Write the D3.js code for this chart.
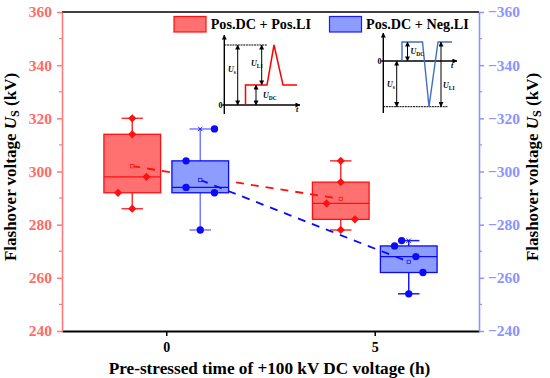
<!DOCTYPE html>
<html><head><meta charset="utf-8">
<script src="https://cdnjs.cloudflare.com/ajax/libs/d3/7.8.5/d3.min.js"></script>
<style>html,body{margin:0;padding:0;background:#fff}svg{display:block}text{font-family:"Liberation Serif",serif;font-weight:bold}</style>
</head><body><svg id="c" width="550" height="378"></svg>
<script>
const hours=[0,5];
const seriesNames=["Pos.DC + Pos.LI","Pos.DC + Neg.LI"];
const leftTicks=[240,260,280,300,320,340,360];
const rightTicks=[-240,-260,-280,-300,-320,-340,-360];
// box stats: [whisker low, q1, median, q3, whisker high, mean]
const redStats=[[286,292,298,314,320,302],[278,282,288,296,304,289.7]];
const blueStats=[[-278,-292,-294,-304,-316,-296.8],[-254,-262,-268,-272,-274,-266]];
// raw points per box and the side of the box they are jittered to
const redPoints=[[320,314,298,292,286],[304,296,288,282,278]];
const redSides=[[0,0,1,-1,0],[0,0,-1,1,0]];
const bluePoints=[[-316,-304,-294,-292,-278],[-274,-272,-268,-262,-254]];
const blueSides=[[1,-1,-1,1,0],[-.5,-1,.5,1,0]];
// schematic waveforms (time, voltage) in schematic units
const posWaveT=[0,0,21.5,28.5,37.5,51.5], posWaveV=[0,20,20,60,20,20];
const negWaveT=[0,0,20.5,27,36,50], negWaveV=[0,19,19,-45.7,19,19];

const RED="#ff0000",BLUE="#0000ff",REDAX="#ff7a7a",BLUEAX="#8a94ff";
const svg=d3.select("#c");
const L=62,R=479,T=12,B=331;
const x=d3.scaleLinear().domain([-2.5,7.5]).range([L,R]);
const yL=d3.scaleLinear().domain([240,360]).range([B,T]);
const yR=d3.scaleLinear().domain([-240,-360]).range([B,T]);
const off=34/41.7, boxW=56.7/41.7, jit=14.2/41.7;

// frame
svg.append("line").attr("x1",L).attr("x2",R).attr("y1",T).attr("y2",T).attr("stroke","#000").attr("stroke-width",1.6);

function colorAxis(g,color,size){
  g.select(".domain").attr("stroke",color).attr("stroke-width",1.6);
  g.selectAll(".tick line").attr("stroke",color).attr("stroke-width",1.5);
  g.selectAll(".tick text").attr("fill",color).attr("font-size",size);
}
const gx=svg.append("g").attr("transform",`translate(0,${B})`)
 .call(d3.axisBottom(x).tickValues(hours).tickSize(5).tickSizeOuter(0).tickPadding(6.5));
gx.select(".domain").attr("stroke","#000").attr("stroke-width",1.8);
gx.selectAll(".tick line").attr("stroke","#000").attr("stroke-width",1.5);
gx.selectAll(".tick text").attr("fill","#000").attr("font-size",14).attr("font-family","Liberation Serif");

const minorL=d3.range(250,360,20), minorR=d3.range(-250,-360,-20);
const gl=svg.append("g").attr("transform",`translate(${L},0)`)
 .call(d3.axisLeft(yL).tickValues(leftTicks).tickSize(5).tickSizeOuter(0).tickPadding(5));
colorAxis(gl,REDAX,15.5); gl.selectAll(".tick text").attr("fill","#ff6a6a").attr("font-family","Liberation Serif");
gl.append("g").selectAll("line").data(minorL).join("line").attr("x2",-3).attr("y1",yL).attr("y2",yL).attr("stroke",REDAX).attr("stroke-width",1.2);
const gr=svg.append("g").attr("transform",`translate(${R},0)`)
 .call(d3.axisRight(yR).tickValues(rightTicks).tickSize(5).tickSizeOuter(0).tickPadding(4));
colorAxis(gr,BLUEAX,15.5); gr.selectAll(".tick text").attr("font-family","Liberation Serif");
gr.append("g").selectAll("line").data(minorR).join("line").attr("x2",3).attr("y1",yR).attr("y2",yR).attr("stroke",BLUEAX).attr("stroke-width",1.2);

function title(x0,y0,rot,color){
  const t=svg.append("text").attr("transform",`translate(${x0},${y0}) rotate(${rot})`).attr("text-anchor","middle").attr("font-size",17).attr("fill",color);
  t.append("tspan").text("Flashover voltage ");
  t.append("tspan").attr("font-style","italic").text("U");
  t.append("tspan").attr("font-size",12).attr("dy",3).text("S");
  t.append("tspan").attr("dy",-3).text(" (kV)");
}
title(16,167,-90,"#000");
title(538,167,-90,"#000");
svg.append("text").attr("x",269.5).attr("y",374).attr("text-anchor","middle").attr("font-size",17.2).text("Pre-stressed time of +100 kV DC voltage (h)");

function drawBoxes(stats,points,sides,y,shift,color,fill,whisk,shape){
  const g=svg.append("g");
  // mean trend line
  const line=d3.line().x((d,i)=>x(hours[i]+shift)).y(d=>y(d[5]));
  stats.forEach((s,i)=>{
    const c=x(hours[i]+shift),w=x(boxW)-x(0),capW=10.7;
    const wc=whisk[i];
    g.append("line").attr("x1",c).attr("x2",c).attr("y1",y(s[0])).attr("y2",y(s[4])).attr("stroke",wc).attr("stroke-width",1.5);
    [s[0],s[4]].forEach(v=>g.append("line").attr("x1",c-capW).attr("x2",c+capW).attr("y1",y(v)).attr("y2",y(v)).attr("stroke",wc).attr("stroke-width",1.5));
    g.append("rect").attr("x",c-w/2).attr("width",w).attr("y",y(s[3])).attr("height",y(s[1])-y(s[3])).attr("fill",fill).attr("stroke",color).attr("stroke-width",1.3);
    g.append("line").attr("x1",c-w/2).attr("x2",c+w/2).attr("y1",y(s[2])).attr("y2",y(s[2])).attr("stroke",color).attr("stroke-width",1.3);
  });
  g.append("path").datum(stats).attr("d",line).attr("fill","none").attr("stroke",color).attr("stroke-width",1.8).attr("stroke-dasharray","8 7");
  stats.forEach((s,i)=>{
    const c=x(hours[i]+shift);
    g.append("rect").attr("x",c-1.7).attr("y",y(s[5])-1.7).attr("width",3.4).attr("height",3.4).attr("fill",fill).attr("stroke",color).attr("stroke-width",.7);
    g.selectAll(null).data(points[i]).join("path")
     .attr("d",d3.symbol().type(shape.type).size(shape.size))
     .attr("transform",(d,k)=>`translate(${x(hours[i]+shift+sides[i][k]*jit)},${y(d)})${shape.rot?" rotate(45)":""}`)
     .attr("fill",color);
    if(shape.mark) g.append("path").attr("d",d3.symbol().type(d3.symbolX).size(14)).attr("transform",`translate(${c},${y(s[4])})`).attr("fill","none").attr("stroke",color).attr("stroke-width",.9);
  });
}
drawBoxes(redStats,redPoints,redSides,yL,-off,"#ff1010","#ff7070",["#ff3030","#ff3030"],{type:d3.symbolSquare,size:34,rot:true});
drawBoxes(blueStats,bluePoints,blueSides,yR,off,"#0a0aff","#8c9cff",["#7a7aff","#1a1aff"],{type:d3.symbolCircle,size:42,mark:true});

// legend
[[174,RED,"#ff7070",0,210.7],[329.5,BLUE,"#8c9cff",1,366]].forEach(([lx,s,f,i,tx])=>{
  svg.append("rect").attr("x",lx).attr("y",16.5).attr("width",32).attr("height",15.5).attr("fill",f).attr("stroke",i?"#1a1aff":"#ff1010").attr("stroke-width",1.2);
  svg.append("text").attr("x",tx).attr("y",29).attr("font-size",14.2).attr("fill","#000").text(seriesNames[i]);
});

// schematics
const defs=svg.append("defs");
defs.append("marker").attr("id","ah").attr("viewBox","0 0 6 6").attr("refX",5.5).attr("refY",3).attr("markerWidth",5).attr("markerHeight",5).attr("orient","auto-start-reverse").attr("markerUnits","userSpaceOnUse")
 .append("path").attr("d","M0,0L6,3L0,6Z").attr("fill","#000");
function seg(x1,y1,x2,y2,w,dbl){
  const l=svg.append("line").attr("x1",x1).attr("y1",y1).attr("x2",x2).attr("y2",y2).attr("stroke","#000").attr("stroke-width",w||1);
  l.attr("marker-end","url(#ah)"); if(dbl) l.attr("marker-start","url(#ah)");
  return l;
}
function lab(px,py,main,sub){
  const t=svg.append("text").attr("x",px).attr("y",py).attr("font-size",8).attr("font-style","italic").attr("fill","#000");
  t.append("tspan").text(main);
  if(sub) t.append("tspan").attr("font-size",5.5).attr("dy",1.5).attr("font-style","normal").text(sub);
}
function dashed(x1,x2,y0){svg.append("line").attr("x1",x1).attr("x2",x2).attr("y1",y0).attr("y2",y0).attr("stroke","#000").attr("stroke-width",1).attr("stroke-dasharray","2 .7");}

// positive waveform
{const ox=224.3,oy=105;
 const sx=d3.scaleLinear().domain([0,51.5]).range([245.5,297]);
 const sy=d3.scaleLinear().domain([0,60]).range([oy,45]);
 seg(ox,114,ox,35,1.4); seg(ox-2,oy,300,oy,1.4); dashed(ox,267,45);
 svg.append("path").datum(posWaveT.map((t,i)=>[t,posWaveV[i]])).attr("d",d3.line().x(d=>sx(d[0])).y(d=>sy(d[1]))).attr("fill","none").attr("stroke",RED).attr("stroke-width",1.5);
 seg(237.7,oy,237.7,45,1,true); seg(261.7,85,261.7,45,1,true); seg(256,oy,256,85,1,true);
 lab(228,72,"U","s"); lab(251,66,"U","LI"); lab(263,98,"U","DC");
 svg.append("text").attr("x",218.5).attr("y",108).attr("font-size",8).text("0");
 svg.append("text").attr("x",296).attr("y",112).attr("font-size",8).attr("font-style","italic").text("t");
}
// negative waveform
{const ox=383.3,oy=61;
 const sx=d3.scaleLinear().domain([0,50]).range([402,452]);
 const sy=d3.scaleLinear().domain([-45.7,19]).range([106.7,42]);
 seg(ox,113,ox,33,1.4); seg(ox-2,oy,457,oy,1.4); dashed(ox,448,106.7);
 svg.append("path").datum(negWaveT.map((t,i)=>[t,negWaveV[i]])).attr("d",d3.line().x(d=>sx(d[0])).y(d=>sy(d[1]))).attr("fill","none").attr("stroke","#3f6fc4").attr("stroke-width",1.4);
 seg(407.5,oy,407.5,42,1,true); seg(396.7,oy,396.7,106.7,1,true); seg(441,42,441,106.7,1,true);
 lab(387,87,"U","s"); lab(443,88,"U","LI"); lab(410.5,54,"U","DC");
 svg.append("text").attr("x",377.5).attr("y",64).attr("font-size",8).text("0");
 svg.append("text").attr("x",451).attr("y",68).attr("font-size",8).attr("font-style","italic").text("t");
}
</script></body></html>
